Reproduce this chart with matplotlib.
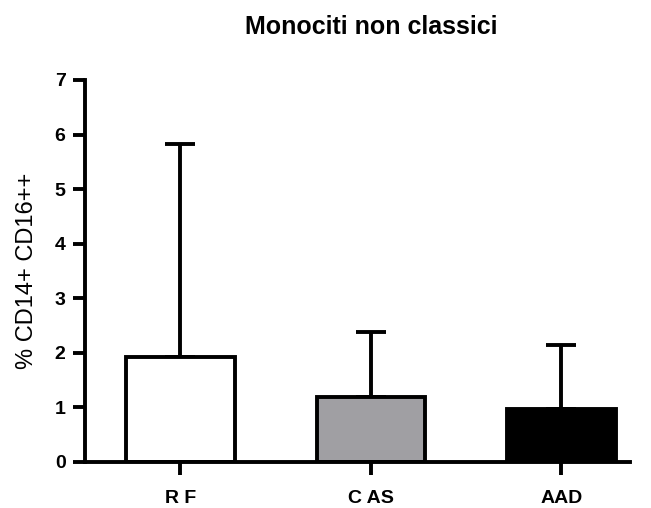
import matplotlib
matplotlib.use("Agg")
import matplotlib.pyplot as plt

categories = ["R F", "C AS", "AAD"]
means = [1.93, 1.19, 0.97]
sd_upper = [3.89, 1.19, 1.17]
colors = ["#ffffff", "#a09fa3", "#000000"]

plt.rcParams['font.family'] = ['Liberation Sans', 'DejaVu Sans']

W, H = 651, 508
fig = plt.figure(figsize=(W / 100, H / 100), dpi=100)
ax = fig.add_axes([85 / W, 1 - 462 / H, (630 - 85) / W, (462 - 80) / H])

lw = 2.8
x = list(range(len(categories)))
ax.bar(x, means, width=0.57, color=colors, edgecolor="black", linewidth=lw, zorder=2)
ax.errorbar(x, means, yerr=[[0] * 3, sd_upper], fmt="none", ecolor="black",
            elinewidth=lw, capsize=11, capthick=lw, zorder=1)

ax.set_xlim(-0.5, 2.36)
ax.set_ylim(0, 7)
ax.set_yticks(range(0, 8))
ax.set_xticks(x)
ax.set_xticklabels(categories, fontweight="bold", fontsize=14)
for lab in ax.get_yticklabels():
    lab.set_fontweight("bold")
    lab.set_fontsize(14)
for s in ["top", "right"]:
    ax.spines[s].set_visible(False)
for s in ["left", "bottom"]:
    ax.spines[s].set_linewidth(lw)
ax.tick_params(axis="both", width=lw, length=9, direction="out")
ax.tick_params(axis="x", pad=11)
ax.tick_params(axis="y", pad=5)

ax.set_ylabel("% CD14+ CD16++", fontsize=17, labelpad=12)
fig.text((185 + 557) / 2 / W, 1 - 27 / H, "Monociti non classici", ha="center", va="center",
         fontsize=18, fontweight="bold")

fig.savefig("out.png", dpi=100)
